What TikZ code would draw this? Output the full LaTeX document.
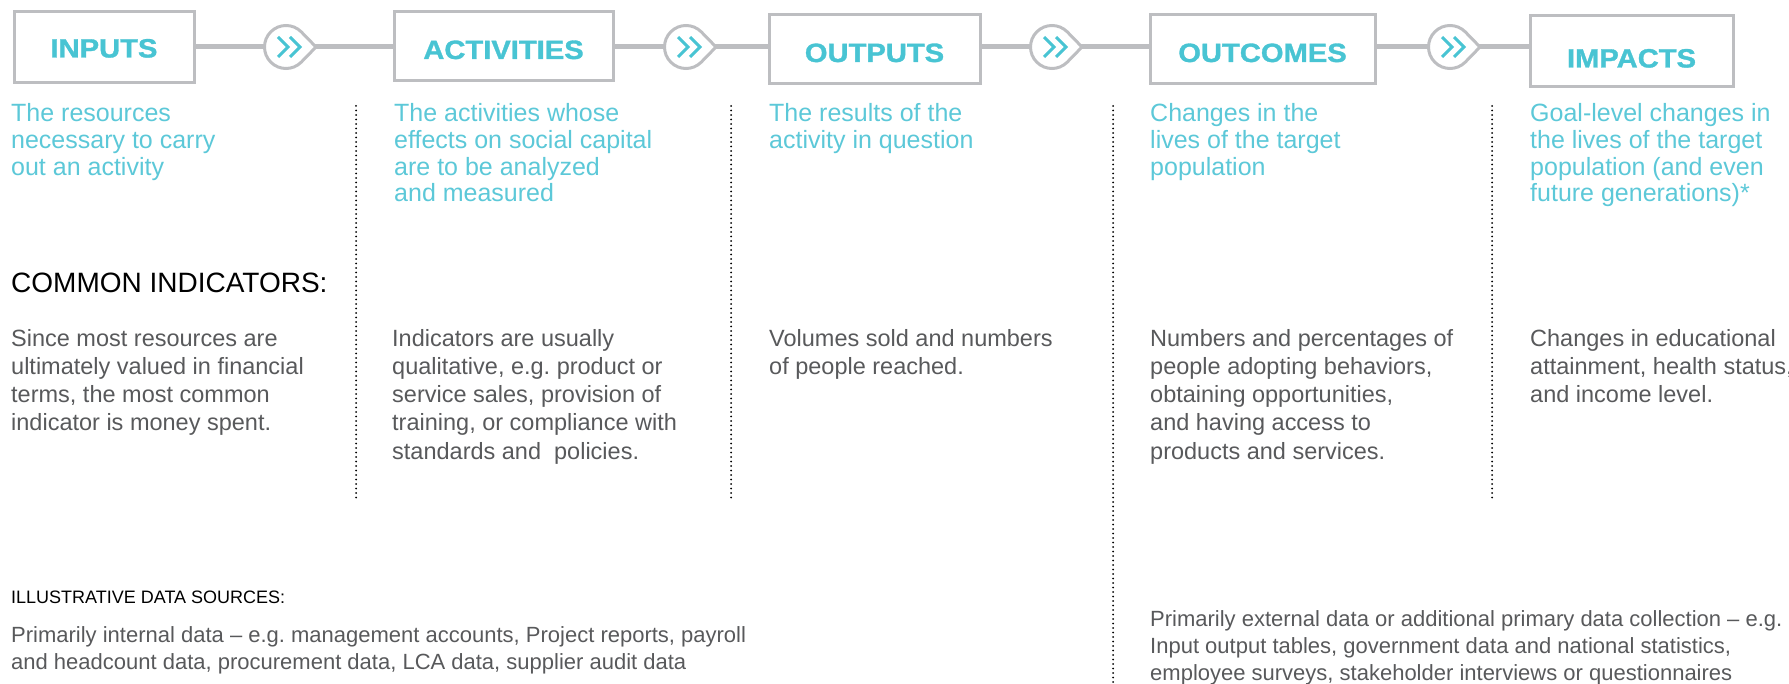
\documentclass[tikz,border=0pt]{standalone}
\usepackage{fontspec}
\setmainfont{Liberation Sans}
\newfontfamily\headfont[FakeStretch=1.1, BoldFeatures={FakeBold=1.2}]{Liberation Sans}
\usetikzlibrary{positioning}

\definecolor{headteal}{HTML}{48C4D3}
\definecolor{descteal}{HTML}{5CC8D8}
\definecolor{linegray}{HTML}{BDBEC1}
\definecolor{bodygray}{HTML}{58595B}

\begin{document}
\begin{tikzpicture}[
    x=1pt, y=-1pt,
    stagebox/.style={draw=linegray, line width=3pt, fill=white, inner sep=0pt, outer sep=0pt,
        text depth=0pt, text=headteal, font=\headfont\bfseries\fontsize{26.5}{28}\selectfont},
    link/.style={draw=linegray, line width=5pt},
    hop/.style={circle, minimum size=43pt, inner sep=0pt, outer sep=0pt},
    drop/.style={draw=linegray, line width=3pt, fill=white},
    chev/.style={draw=headteal, line width=3pt},
    desc/.style={anchor=north west, inner sep=0pt, align=left, text=descteal,
        font=\fontsize{25}{26.6}\selectfont},
    body/.style={anchor=north west, inner sep=0pt, align=left, text=bodygray,
        font=\fontsize{23.5}{28.2}\selectfont},
    sep/.style={draw=black, line width=2pt, line cap=round, dash pattern=on 0pt off 4.5pt}
]
    \useasboundingbox (0,0) rectangle (1789,684);

    % Stage boxes

    \node[stagebox, minimum width=180pt, minimum height=71pt, text height=21pt] (inputs) at (104,47) {INPUTS};
    \node[stagebox, minimum width=219pt, minimum height=69pt, text height=25pt] (activities) at (503.5,46.5) {ACTIVITIES};
    \node[stagebox, minimum width=211pt, minimum height=69pt, text height=25pt] (outputs) at (874.5,49.5) {OUTPUTS};
    \node[stagebox, minimum width=225pt, minimum height=69pt, text height=25pt] (outcomes) at (1262.5,49.5) {OUTCOMES};
    \node[stagebox, minimum width=203pt, minimum height=71pt, text height=32pt] (impacts) at (1631.5,51.5) {IMPACTS};

    % Hops between the boxes

    \node[hop] (hop1) at (286,47) {};
    \node[hop] (hop2) at (686,47) {};
    \node[hop] (hop3) at (1052,47) {};
    \node[hop] (hop4) at (1450,47) {};

    \foreach \a/\h/\b in {inputs/hop1/activities, activities/hop2/outputs,
                          outputs/hop3/outcomes, outcomes/hop4/impacts} {
        \draw[link] (\a.east |- \h) -- (\b.west |- \h);
        \draw[drop] ([xshift=30pt]\h.center) -- (\h.45)
            arc[start angle=45, end angle=315, radius=21.5pt] -- cycle;
        \draw[chev] ([shift={(-8pt,10pt)}]\h.center) -- ++(10pt,-10pt) -- ++(-10pt,-10pt);
        \draw[chev] ([shift={(4pt,10pt)}]\h.center) -- ++(10pt,-10pt) -- ++(-10pt,-10pt);
    }

    % Dotted separators

    \foreach \x/\yend in {356/498, 731/502, 1113/684, 1492/500} {
        \draw[sep] (\x,106) -- (\x,\yend);
    }

    % What each stage is

    \node[desc] (indesc) at (11,103.5) {The resources\\necessary to carry\\out an activity};
    \node[desc] (actdesc) at (394,103.5) {The activities whose\\effects on social capital\\are to be analyzed\\and measured};
    \node[desc] (outdesc) at (769,103.5) {The results of the\\activity in question};
    \node[desc] (oucdesc) at (1150,103.5) {Changes in the\\lives of the target\\population};
    \node[desc] (impdesc) at (1530,103.5) {Goal-level changes in\\the lives of the target\\population (and even\\future generations)*};

    % Common indicators

    \node[anchor=base west, inner sep=0pt, font=\fontsize{28}{30}\selectfont] (indhead) at (11,293) {COMMON INDICATORS:};

    \node[body] (inbody) at (11,329) {Since most resources are\\ultimately valued in financial\\terms, the most common\\indicator is money spent.};
    \node[body] (actbody) at (392,329) {Indicators are usually\\qualitative, e.g.\ product or\\service sales, provision of\\training, or compliance with\\standards and\ \ policies.};
    \node[body] (outbody) at (769,329) {Volumes sold and numbers\\of people reached.};
    \node[body] (oucbody) at (1150,329) {Numbers and percentages of\\people adopting behaviors,\\obtaining opportunities,\\and having access to\\products and services.};
    \node[body] (impbody) at (1530,329) {Changes in educational\\attainment, health status,\\and income level.};

    % Data sources

    \node[anchor=base west, inner sep=0pt, font=\fontsize{18}{20}\selectfont] (srchead) at (11,603) {ILLUSTRATIVE DATA SOURCES:};

    \node[body, font=\fontsize{22}{27}\selectfont] (insrc) at (11,626) {Primarily internal data – e.g.\ management accounts, Project reports, payroll\\and headcount data, procurement data, LCA data, supplier audit data};
    \node[body, font=\fontsize{22}{27}\selectfont] (extsrc) at (1150,610) {Primarily external data or additional primary data collection – e.g.\\Input output tables, government data and national statistics,\\employee surveys, stakeholder interviews or questionnaires};

\end{tikzpicture}
\end{document}
